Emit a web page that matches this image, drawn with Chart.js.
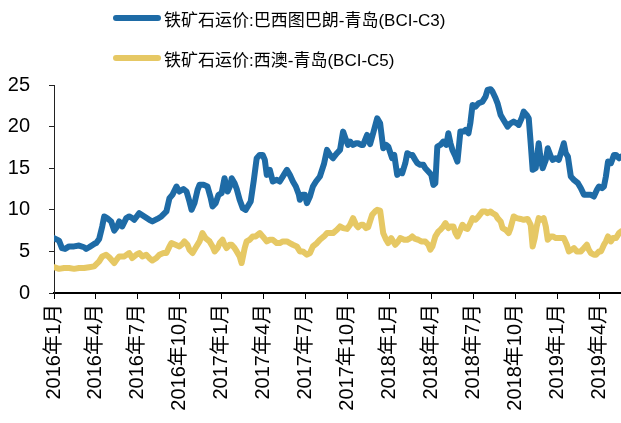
<!DOCTYPE html>
<html>
<head>
<meta charset="utf-8">
<script src="https://cdn.jsdelivr.net/npm/chart.js@4.4.1/dist/chart.umd.min.js"></script>
<style>
  html, body { margin: 0; padding: 0; background: #fff; }
  #wrap { position: relative; width: 621px; height: 423px; }
  #c { position: absolute; left: 0; top: 0; }
  .lg { position: absolute; left: 113px; height: 22px; display: flex; align-items: center;
        font-family: "Liberation Sans", "Noto Sans CJK SC", sans-serif; font-size: 17px; color: #000; white-space: nowrap; }
  .sw { width: 48px; height: 6px; border-radius: 3px; margin-right: 3px; }
</style>
</head>
<body>
<div id="wrap">
  <canvas id="c" width="621" height="423"></canvas>
  <div class="lg" style="top:7px"><span class="sw" id="sw0"></span><span id="lt0"></span></div>
  <div class="lg" style="top:47px"><span class="sw" id="sw1"></span><span id="lt1"></span></div>
</div>
<script>
// Series names
const seriesNames = ["铁矿石运价:巴西图巴朗-青岛(BCI-C3)", "铁矿石运价:西澳-青岛(BCI-C5)"];
const seriesColors = ["#1E6BA6", "#E6C864"];

// x positions in months since 2016年1月
const c3Months = [0,0.36,0.57,0.79,1.08,1.44,1.79,2.15,2.30,2.51,2.87,3.02,3.23,3.45,3.59,3.80,4.09,4.31,4.52,4.67,4.88,5.17,5.38,5.60,5.74,6.10,6.46,6.82,7.04,7.39,7.68,8.04,8.26,8.47,8.76,8.97,9.26,9.48,9.69,9.84,10.05,10.27,10.41,10.70,10.98,11.20,11.34,11.56,11.77,11.99,12.20,12.42,12.63,12.71,12.92,13.07,13.28,13.50,13.71,13.86,14.07,14.29,14.50,14.72,14.93,15.08,15.22,15.44,15.65,15.94,16.15,16.44,16.66,16.87,17.09,17.30,17.52,17.59,17.80,17.95,18.09,18.31,18.52,18.74,19.02,19.31,19.53,19.74,19.96,20.24,20.46,20.68,20.89,21.03,21.18,21.39,21.61,21.75,21.97,22.11,22.40,22.61,22.83,23.12,23.33,23.55,23.76,23.91,24.19,24.34,24.55,24.77,24.91,25.13,25.27,25.49,25.63,25.84,25.99,26.20,26.42,26.56,26.78,26.99,27.14,27.28,27.42,27.64,27.85,28.07,28.21,28.36,28.50,28.72,28.86,29.07,29.29,29.43,29.65,29.79,29.94,30.15,30.37,30.65,30.87,31.01,31.23,31.37,31.59,31.73,31.95,32.16,32.45,32.66,32.88,33.10,33.24,33.45,33.60,33.81,33.96,34.10,34.24,34.46,34.67,34.82,34.96,35.18,35.32,35.54,35.68,35.90,36.11,36.33,36.47,36.61,36.76,36.97,37.19,37.48,37.69,37.91,38.19,38.41,38.62,38.84,38.98,39.20,39.34,39.48,39.63,39.84,40.06,40.20,40.42,40.56];
const c3Values = [6.6,6.3,5.4,5.3,5.6,5.6,5.7,5.5,5.3,5.5,5.9,6.0,6.5,8.0,9.2,9.0,8.6,7.5,8.0,8.6,8.0,9.0,9.2,9.0,8.8,9.6,9.2,8.8,8.6,8.9,9.2,9.8,11.4,11.8,12.8,12.2,12.5,12.2,11.0,10.0,10.8,12.4,13.0,13.0,12.8,11.5,10.4,10.8,11.8,12.0,13.8,12.2,13.0,13.8,13.2,12.5,11.2,10.2,10.0,10.4,11.0,13.5,16.2,16.6,16.6,16.0,14.2,14.8,13.4,13.6,13.4,14.2,14.8,14.2,13.4,12.8,11.8,11.2,11.8,11.8,10.8,11.6,12.8,13.4,14.0,15.5,17.2,16.6,16.2,16.8,17.2,19.4,18.4,17.8,18.2,17.8,18.0,18.0,17.8,17.8,19.0,17.9,19.2,21.0,20.4,17.4,17.8,17.6,16.2,16.6,14.2,14.6,14.4,15.6,16.8,16.6,16.6,16.0,15.6,15.4,15.4,15.0,14.6,14.2,13.0,13.2,17.6,17.8,18.2,17.8,19.2,18.0,17.2,16.4,15.8,19.4,19.4,19.6,19.2,20.5,22.6,22.4,22.8,23.0,23.6,24.4,24.5,24.2,23.4,22.8,21.4,20.8,20.0,20.4,20.6,20.4,20.2,21.0,21.8,21.4,21.0,18.0,14.8,15.0,18.0,16.0,15.0,16.0,17.4,16.4,16.0,16.2,16.0,17.2,18.0,16.8,16.4,14.0,13.6,13.2,12.6,11.8,11.8,11.8,11.6,12.4,12.8,12.6,12.8,14.0,15.8,15.6,16.6,16.6,16.2,16.4];

const c5Months = [0,0.36,0.72,1.08,1.44,1.79,2.15,2.51,2.87,3.23,3.45,3.73,3.95,4.31,4.52,4.67,5.03,5.38,5.60,5.89,6.10,6.32,6.60,6.82,7.04,7.32,7.54,7.83,8.04,8.26,8.40,8.69,8.97,9.19,9.33,9.55,9.69,9.91,10.12,10.41,10.62,10.84,11.13,11.34,11.49,11.70,11.85,12.06,12.20,12.35,12.56,12.71,12.92,13.07,13.28,13.42,13.64,13.78,14.00,14.21,14.43,14.72,14.93,15.22,15.44,15.65,15.94,16.15,16.37,16.66,16.87,17.09,17.37,17.59,17.80,18.09,18.31,18.52,18.81,19.02,19.31,19.53,19.74,19.96,20.24,20.46,20.68,20.96,21.18,21.39,21.61,21.75,21.97,22.11,22.33,22.47,22.76,22.97,23.12,23.33,23.55,23.76,23.91,24.12,24.41,24.62,24.77,25.05,25.27,25.49,25.63,25.84,26.06,26.27,26.56,26.78,26.92,27.07,27.28,27.50,27.64,27.85,28.00,28.21,28.36,28.57,28.72,28.86,29.07,29.22,29.43,29.58,29.79,29.94,30.15,30.37,30.65,30.87,31.01,31.23,31.37,31.59,31.73,31.95,32.09,32.31,32.52,32.66,32.88,33.10,33.38,33.60,33.88,34.10,34.24,34.39,34.53,34.67,34.89,35.03,35.18,35.32,35.54,35.68,35.90,36.04,36.25,36.47,36.68,36.83,37.04,37.19,37.40,37.69,37.91,38.12,38.26,38.41,38.62,38.77,38.98,39.13,39.34,39.48,39.63,39.84,39.99,40.20,40.42,40.56];
const c5Values = [3.1,2.9,3.0,3.0,2.9,3.0,3.0,3.1,3.2,3.8,4.4,4.6,4.3,3.6,4.1,4.4,4.4,4.8,4.2,4.6,4.8,4.4,4.6,4.2,3.9,4.2,4.6,4.8,4.8,5.6,6.0,5.8,5.6,5.9,6.2,5.8,5.2,4.8,5.4,6.2,7.2,6.6,6.2,5.6,5.0,5.4,6.0,6.4,5.8,5.4,5.8,5.8,5.4,5.0,4.4,3.6,5.4,6.2,6.4,6.8,6.8,7.2,6.8,6.2,6.4,6.4,6.0,6.0,6.2,6.2,6.0,5.8,5.6,5.0,5.0,4.6,4.8,5.6,6.0,6.4,6.8,7.2,7.2,7.2,7.6,8.0,7.8,7.7,8.2,9.0,8.2,7.9,8.2,8.2,7.8,7.9,9.4,9.8,10.0,9.9,7.2,6.4,6.0,6.6,5.8,6.2,6.6,6.4,6.4,6.6,6.8,6.5,6.4,6.2,6.2,5.8,5.2,5.6,6.8,7.4,7.6,8.0,8.4,7.8,8.0,8.0,7.2,6.8,7.6,8.2,7.8,7.7,8.4,9.0,8.8,9.2,9.8,9.8,9.6,9.8,9.6,9.4,9.0,8.6,7.8,7.6,7.2,7.8,9.2,9.0,8.9,8.8,8.9,8.2,5.6,6.6,8.0,9.0,8.8,9.0,8.0,6.4,6.8,6.8,6.6,6.6,6.6,6.6,5.8,5.0,5.2,5.4,5.0,5.0,5.4,5.8,5.2,4.8,4.6,4.6,5.0,5.0,5.8,6.2,6.8,6.2,6.6,6.6,7.2,7.4];

// Axis settings
const xMin = 0, xMax = 40.56, xStep = 3;   // months since 2016年1月
const yMin = 0, yMax = 25, yStep = 5;
const startYear = 2016;

const toPts = (ms, vs) => ms.map((m, i) => ({ x: m, y: vs[i] }));

// HTML legend
seriesNames.forEach((n, i) => {
  document.getElementById('lt' + i).textContent = n;
  document.getElementById('sw' + i).style.background = seriesColors[i];
});

Chart.defaults.font.family = '"Liberation Sans", "Noto Sans CJK SC", sans-serif';
Chart.defaults.color = '#000';

new Chart(document.getElementById('c'), {
  type: 'line',
  data: {
    datasets: [
      { label: seriesNames[0], data: toPts(c3Months, c3Values), borderColor: seriesColors[0], borderWidth: 6, pointRadius: 0, tension: 0, borderJoinStyle: 'round', borderCapStyle: 'round' },
      { label: seriesNames[1], data: toPts(c5Months, c5Values), borderColor: seriesColors[1], borderWidth: 6, pointRadius: 0, tension: 0, borderJoinStyle: 'round', borderCapStyle: 'round' }
    ]
  },
  options: {
    responsive: false,
    animation: false,
    layout: { padding: { top: 85, right: 0, left: 0, bottom: 0 } },
    plugins: { legend: { display: false }, tooltip: { enabled: false } },
    scales: {
      x: {
        type: 'linear', min: xMin, max: xMax,
        border: { display: true, color: '#000', width: 2 },
        grid: { drawOnChartArea: false, drawTicks: true, tickLength: 6, color: '#000', lineWidth: 1 },
        ticks: {
          stepSize: xStep, includeBounds: false, autoSkip: false,
          maxRotation: 90, minRotation: 90, padding: 5,
          font: { size: 20 }, color: '#000',
          callback: (v) => {
            const y = startYear + Math.floor(v / 12);
            const m = (v % 12) + 1;
            return y + '年' + m + '月';
          }
        },
        afterFit: (s) => { s.height = 130; s.paddingRight = 0; s.paddingLeft = 0; }
      },
      y: {
        min: yMin, max: yMax,
        border: { display: true, color: '#222', width: 1 },
        grid: { drawOnChartArea: false, drawTicks: true, tickLength: 5, color: '#222' },
        ticks: { stepSize: yStep, padding: 19, font: { size: 20 }, color: '#000' },
        afterFit: (s) => { s.width = 54; }
      }
    }
  }
});
</script>
</body>
</html>
